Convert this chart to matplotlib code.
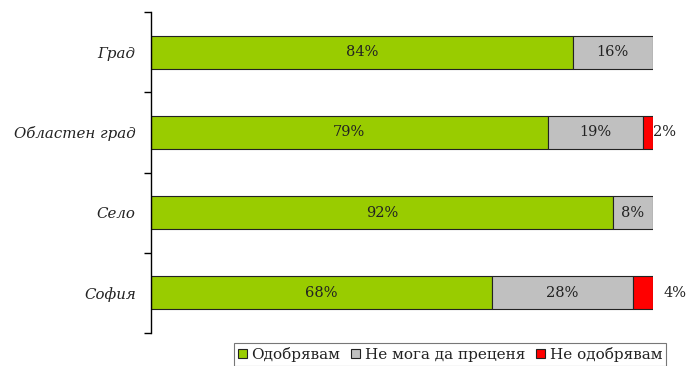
import matplotlib.pyplot as plt
from matplotlib.patches import Patch

categories = ["Град", "Областен град", "Село", "София"]
approve = [84, 79, 92, 68]
cannot_judge = [16, 19, 8, 28]
disapprove = [0, 2, 0, 4]
series_names = ["Одобрявам", "Не мога да преценя", "Не одобрявам"]
colors = ["#99CC00", "#C0C0C0", "#FF0000"]

plt.rcParams["font.family"] = ["DejaVu Serif"]

fig = plt.figure(figsize=(6.87, 3.66), dpi=100)
ax = fig.add_axes([151 / 687, 1 - 333 / 366, (653 - 151) / 687, (333 - 12) / 366])

y = list(range(len(categories)))
h = 0.41
ax.barh(y, approve, height=h, color=colors[0], edgecolor="#222222", linewidth=0.8)
ax.barh(y, cannot_judge, left=approve, height=h, color=colors[1], edgecolor="#222222", linewidth=0.8)
left2 = [a + b for a, b in zip(approve, cannot_judge)]
for i, v in enumerate(disapprove):
    if v > 0:
        ax.barh(i, v, left=left2[i], height=h, color=colors[2], edgecolor="#222222", linewidth=0.8)

# value labels
lab_fs = 10.5
for i in y:
    ax.text(approve[i] / 2, i, f"{approve[i]}%", ha="center", va="center", fontsize=lab_fs, color="#222222")
    ax.text(approve[i] + cannot_judge[i] / 2, i, f"{cannot_judge[i]}%", ha="center", va="center",
            fontsize=lab_fs, color="#222222")
ax.text(100.0, 1, f"{disapprove[1]}%", ha="left", va="center", fontsize=lab_fs, color="#222222")
ax.text(104.4, 3, f"{disapprove[3]}%", ha="center", va="center", fontsize=lab_fs, color="#222222")

ax.set_xlim(0, 100)
ax.set_ylim(3.5, -0.5)
ax.set_yticks([-0.5, 0.5, 1.5, 2.5, 3.5])
ax.set_yticklabels([])
ax.set_yticks(y, minor=True)
ax.set_yticklabels(categories, minor=True, fontstyle="italic", fontsize=10.8, color="#222222")
ax.tick_params(axis="y", which="minor", length=0, pad=11)
ax.tick_params(axis="y", which="major", length=5, width=1)
ax.set_xticks([])
for s in ["top", "right", "bottom"]:
    ax.spines[s].set_visible(False)
ax.spines["left"].set_linewidth(1)

handles = [Patch(facecolor=c, edgecolor="#222222", linewidth=0.8) for c in colors]
leg = fig.legend(handles, series_names, loc="upper left", bbox_to_anchor=(234 / 687, 1 - 343 / 366),
                 ncol=3, frameon=True, fancybox=False, edgecolor="#555555", fontsize=11,
                 handlelength=0.6, handleheight=0.6, handletextpad=0.3, columnspacing=0.7,
                 borderpad=0.25, borderaxespad=0)
leg.get_frame().set_linewidth(0.8)
for t in leg.get_texts():
    t.set_color("#222222")

fig.savefig("out.png", dpi=100)
